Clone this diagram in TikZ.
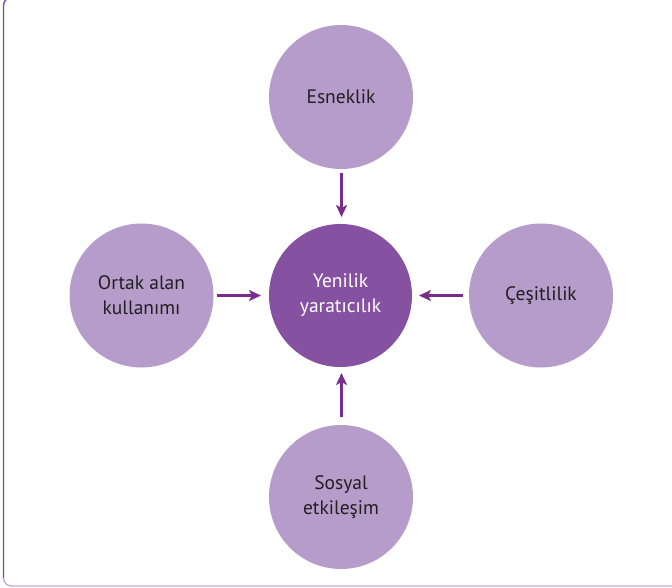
\documentclass[tikz,border=0pt]{standalone}
\usepackage{fontspec}
\setmainfont{PT Sans}
\usetikzlibrary{arrows.meta}
\definecolor{outerc}{RGB}{181,156,203}
\definecolor{centerc}{RGB}{133,81,160}
\definecolor{arrowc}{RGB}{120,45,140}
\definecolor{framec}{RGB}{130,70,160}
\definecolor{framelc}{RGB}{200,170,220}
\definecolor{textc}{RGB}{35,31,32}
\begin{document}
\begin{tikzpicture}[x=1pt,y=-1pt,
  outer/.style={circle,fill=outerc,minimum size=144pt,inner sep=0pt,align=center,
    font=\fontsize{19.5}{25}\selectfont,text=textc},
  inner/.style={circle,fill=centerc,minimum size=143pt,inner sep=0pt,align=center,
    font=\fontsize{19.5}{25}\selectfont,text=white},
  conn/.style={draw=arrowc,line width=2.4pt,-{Stealth[length=12pt,width=11pt,inset=3pt]}}]
\useasboundingbox (0,0) rectangle (672,587);
\begin{scope}
\clip (0,0) rectangle (672,587);
\draw[framec,line width=1.4pt,rounded corners=8pt] (40,-2.5) -- (3.5,-2.5) -- (3.5,578);
\draw[framelc,line width=1.4pt] (3.5,578) arc[start angle=180,end angle=90,x radius=8pt,y radius=-8pt] -- (700,586);
\end{scope}
\node[inner] (c) at (340.5,295.5) {Yenilik\\yaratıcılık};
\node[outer] (t) at (341,97) {Esneklik};
\node[outer] (l) at (141.5,295.5) {Ortak alan\\kullanımı};
\node[outer] (r) at (541,295.5) {Çeşitlilik};
\node[outer] (b) at (341,497) {Sosyal\\etkileşim};
\coordinate (ts) at (341.5,173);
\coordinate (te) at (341.5,217);
\coordinate (ls) at (217,295.5);
\coordinate (le) at (261,295.5);
\coordinate (rs) at (463,295.5);
\coordinate (re) at (419,295.5);
\coordinate (bs) at (341.5,417);
\coordinate (be) at (341.5,373);
\draw[conn] (ts) -- (te);
\draw[conn] (ls) -- (le);
\draw[conn] (rs) -- (re);
\draw[conn] (bs) -- (be);
\end{tikzpicture}
\end{document}
